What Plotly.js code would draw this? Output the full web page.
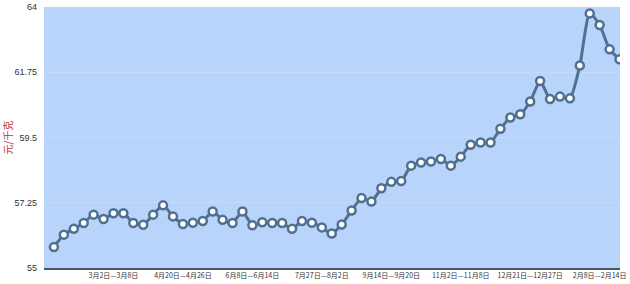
<!DOCTYPE html>
<html>
<head>
<meta charset="utf-8">
<script src="https://cdn.plot.ly/plotly-3.0.1.min.js"></script>
<style>html,body{margin:0;padding:0;background:#fff;}#chart{width:630px;height:284px;}</style>
</head>
<body>
<div id="chart"></div>
<script>
var weeks = [
  "1月19日—1月25日","1月26日—2月1日","2月2日—2月8日","2月9日—2月15日","2月16日—2月22日","2月23日—3月1日",
  "3月2日—3月8日","3月9日—3月15日","3月16日—3月22日","3月23日—3月29日","3月30日—4月5日","4月6日—4月12日",
  "4月13日—4月19日","4月20日—4月26日","4月27日—5月3日","5月4日—5月10日","5月11日—5月17日","5月18日—5月24日",
  "5月25日—5月31日","6月1日—6月7日","6月8日—6月14日","6月15日—6月21日","6月22日—6月28日","6月29日—7月5日",
  "7月6日—7月12日","7月13日—7月19日","7月20日—7月26日","7月27日—8月2日","8月3日—8月9日","8月10日—8月16日",
  "8月17日—8月23日","8月24日—8月30日","8月31日—9月6日","9月7日—9月13日","9月14日—9月20日","9月21日—9月27日",
  "9月28日—10月4日","10月5日—10月11日","10月12日—10月18日","10月19日—10月25日","10月26日—11月1日","11月2日—11月8日",
  "11月9日—11月15日","11月16日—11月22日","11月23日—11月29日","11月30日—12月6日","12月7日—12月13日","12月14日—12月20日",
  "12月21日—12月27日","12月28日—1月3日","1月4日—1月10日","1月11日—1月17日","1月18日—1月24日","1月25日—1月31日",
  "2月1日—2月7日","2月8日—2月14日","2月15日—2月21日","2月22日—2月28日"
];
var prices = [
  55.72, 56.15, 56.35, 56.55, 56.84, 56.69, 56.89, 56.89, 56.55, 56.49,
  56.84, 57.16, 56.78, 56.52, 56.56, 56.62, 56.95, 56.66, 56.55, 56.95,
  56.47, 56.58, 56.55, 56.55, 56.35, 56.62, 56.56, 56.40, 56.19, 56.50,
  56.98, 57.41, 57.29, 57.75, 57.97, 58.00, 58.53, 58.64, 58.67, 58.76,
  58.53, 58.84, 59.25, 59.33, 59.33, 59.80, 60.19, 60.30, 60.74, 61.45,
  60.83, 60.91, 60.85, 61.98, 63.78, 63.38, 62.54, 62.20
];
var xTickWeeks = ["3月2日—3月8日","4月20日—4月26日","6月8日—6月14日","7月27日—8月2日",
  "9月14日—9月20日","11月2日—11月8日","12月21日—12月27日","2月8日—2月14日"];
var yTicks = [55, 57.25, 59.5, 61.75, 64];
var yTickText = ["55", "57.25", "59.5", "61.75", "64"];

var trace = {
  x: weeks, y: prices, type: 'scatter', mode: 'lines+markers',
  line: {color: '#4f7090', width: 3, shape: 'spline', smoothing: 0.6},
  marker: {size: 8, color: '#ffffff', line: {color: '#4f7090', width: 2.5}},
  hoverinfo: 'x+y'
};
var layout = {
  width: 630, height: 284,
  margin: {l: 44, r: 10, t: 7, b: 16, pad: 0},
  paper_bgcolor: '#ffffff',
  plot_bgcolor: '#b9d4fa',
  showlegend: false,
  font: {family: '"Noto Sans CJK SC", "Noto Sans", sans-serif', size: 9, color: '#333'},
  xaxis: {
    type: 'category', range: [-1, 57.05],
    tickmode: 'array', tickvals: xTickWeeks, ticktext: xTickWeeks,
    tickangle: 0,
    showgrid: false, zeroline: false, ticks: '',
    showline: true, linecolor: '#4a5566', linewidth: 1.5,
    tickfont: {size: 7, color: '#333'}, automargin: false
  },
  yaxis: {
    range: [55, 64], tickmode: 'array', tickvals: yTicks, ticktext: yTickText,
    showgrid: true, gridcolor: '#c3dafb', gridwidth: 1, zeroline: false,
    showline: false, ticks: '', ticklabelstandoff: 6,
    tickfont: {size: 9, color: '#333', family: 'Liberation Sans, Arial, sans-serif'},
    title: {text: '元/千克', font: {size: 10, color: '#c0392b'}, standoff: 6},
    automargin: false
  }
};
Plotly.newPlot('chart', [trace], layout, {displayModeBar: false, staticPlot: true});
</script>
</body>
</html>
